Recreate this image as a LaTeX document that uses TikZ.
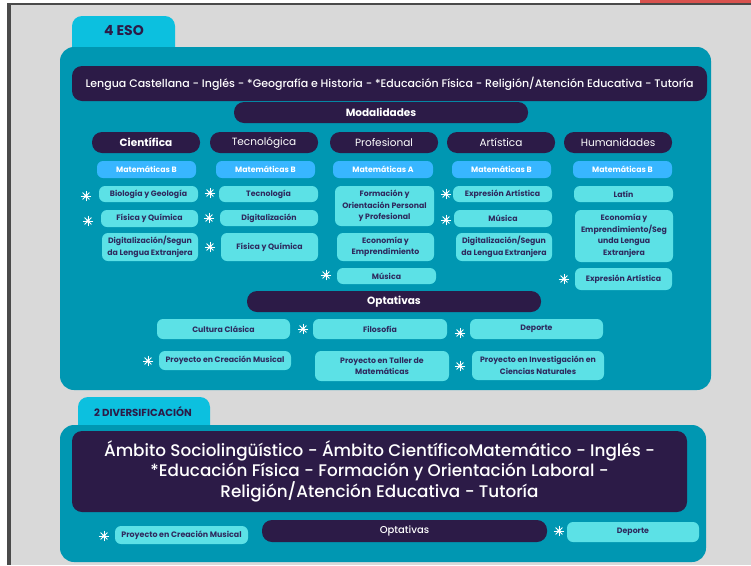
\documentclass[tikz,border=0pt]{standalone}
\usepackage{fontspec}
\setmainfont{Poppins}
\newfontfamily\popmed{Poppins Medium}
\definecolor{bggray}{HTML}{D9D9D9}
\definecolor{framegray}{HTML}{4A4A4A}
\definecolor{topred}{HTML}{D9534F}
\definecolor{teal}{HTML}{0097B2}
\definecolor{tabcyan}{HTML}{0CC0DF}
\definecolor{navy}{HTML}{2C1B47}
\definecolor{matblue}{HTML}{38B6FF}
\definecolor{itemcyan}{HTML}{5CE1E6}
\definecolor{itemtext}{HTML}{2E2A5E}
\tikzset{
  base/.style={rounded corners=6pt, align=center, inner sep=1pt},
  sz/.style 2 args={minimum width=#1pt, minimum height=#2pt},
  item/.style={base, fill=itemcyan, text=itemtext, font=\bfseries\fontsize{7.8}{11.5}\selectfont},
  mat/.style={base, fill=matblue, text=white, font=\bfseries\fontsize{7.8}{9}\selectfont},
  pill/.style={base, rounded corners=10pt, fill=navy, text=white},
  head/.style={pill, sz={108}{21}, font=\fontsize{10.5}{12}\selectfont},
  tabtext/.style={text=navy, font=\bfseries\fontsize{14}{15}\selectfont},
  sparkle/.pic={
    \foreach \a in {0,45,...,315}
      \draw[white, line width=1pt, line cap=round] (0,0) -- (\a:4.6);
    \fill[white] (0,0) circle (1.9);
  }
}
\begin{document}
\begin{tikzpicture}[x=1pt,y=-1pt]
\useasboundingbox (0,0) rectangle (751,565);
% page background and frame
\fill[white] (0,0) rectangle (751,565);
\fill[bggray] (9,4) rectangle (751,565);
\fill[framegray] (7,3) rectangle (11,565);
\fill[framegray] (7,3) rectangle (751,5);
\fill[topred] (640,0) rectangle (751,3);

% ---- 4 ESO ----
\fill[tabcyan, rounded corners=10pt] (72,60) rectangle (175,16);
\node[tabtext] (tabeso) at (124,31) {4 ESO};
\fill[teal, rounded corners=14pt] (60,47) rectangle (711,390);
\node[pill, sz={635}{35}, font=\popmed\fontsize{11}{12}\selectfont] (troncales) at (389.5,83.5)
  {Lengua Castellana - Inglés - *Geografía e Historia - *Educación Física - Religión/Atención Educativa - Tutoría};
\node[pill, sz={294}{21}, font=\bfseries\fontsize{10.5}{12}\selectfont] (modal) at (381,112.5) {Modalidades};

% column headers
\node[head, font=\bfseries\fontsize{10.5}{12}\selectfont] (cient) at (146,142.5) {Científica};
\node[head] (tecno) at (264,142.5) {Tecnológica};
\node[head] (prof) at (384,142.5) {Profesional};
\node[head] (art) at (501,142.5) {Artística};
\node[head] (hum) at (618,142.5) {Humanidades};

% matematicas
\node[mat, sz={99}{17}] (matcient) at (146.5,169.5) {Matemáticas B};
\node[mat, sz={99}{17}] (mattecno) at (265.5,169.5) {Matemáticas B};
\node[mat, sz={100}{17}] (matprof) at (383,169.5) {Matemáticas A};
\node[mat, sz={99}{17}] (matart) at (501.5,169.5) {Matemáticas B};
\node[mat, sz={99}{17}] (mathum) at (622.5,169.5) {Matemáticas B};

% cientifica
\node[item, sz={99}{16}] (biogeo) at (148.5,194) {Biología y Geología};
\node[item, sz={97}{17}] (fqcient) at (149.5,218.5) {Física y Química};
\node[item, sz={96}{28}] (digicient) at (150,247) {Digitalización/Segun\\da Lengua Extranjera};
% tecnologica
\node[item, sz={99}{16}] (tecnologia) at (268.5,194) {Tecnología};
\node[item, sz={98}{16}] (digitecno) at (269,218) {Digitalización};
\node[item, sz={97}{28}] (fqtecno) at (269.5,247) {Física y Química};
% profesional
\node[item, sz={99}{40}] (fopp) at (384.5,206) {Formación y\\Orientación Personal\\y Profesional};
\node[item, sz={97}{28}] (ecoprof) at (385.5,247) {Economía y\\Emprendimiento};
\node[item, sz={99}{16}] (musprof) at (386.5,276) {Música};
% artistica
\node[item, sz={99}{16}] (expart) at (502.5,194) {Expresión Artística};
\node[item, sz={98}{17}] (musart) at (503,218.5) {Música};
\node[item, sz={96}{28}] (digiart) at (504,247) {Digitalización/Segun\\da Lengua Extranjera};
% humanidades
\node[item, sz={99}{16}] (latin) at (623.5,194) {Latín};
\node[item, sz={98}{52}] (ecohum) at (624,236) {Economía y\\Emprendimiento/Seg\\unda Lengua\\Extranjera};
\node[item, sz={97}{22}] (exphum) at (623.5,279) {Expresión Artística};

\foreach \p in {(86,196),(88,221),(210,193),(209,218),(210,247),(446,194),(446,220),(326,275),(564,279)}
  \pic at \p {sparkle};

% optativas 4 ESO
\node[pill, sz={294}{21}, font=\bfseries\fontsize{10.5}{12}\selectfont] (optesa) at (394,301.5) {Optativas};
\node[item, sz={133}{20}] (cultura) at (223.5,329) {Cultura Clásica};
\node[item, sz={134}{20}] (filo) at (380,329) {Filosofía};
\node[item, sz={133}{20}] (deporte) at (536.5,329) {Deporte};
\node[item, sz={132}{19}] (creacion) at (225,360.5) {Proyecto en Creación Musical};
\node[item, sz={134}{30}] (taller) at (382,366) {Proyecto en Taller de\\Matemáticas};
\node[item, sz={132}{29}] (investiga) at (538,365.5) {Proyecto en Investigación en\\Ciencias Naturales};
\foreach \p in {(303,329),(460,333),(148,361),(460,366)}
  \pic at \p {sparkle};

% ---- 2 DIVERSIFICACION ----
\fill[tabcyan, rounded corners=10pt] (78,440) rectangle (210,397);
\node[tabtext, font=\bfseries\fontsize{10.2}{12}\selectfont] (tabdiv) at (143,411.5) {2 DIVERSIFICACIÓN};
\fill[teal, rounded corners=14pt] (60,425) rectangle (706,562);
\node[pill, sz={615}{81}, font=\popmed\fontsize{16.8}{20}\selectfont] (ambitos) at (379.5,471.5)
  {Ámbito Sociolingüístico - Ámbito CientíficoMatemático - Inglés -\\*Educación Física - Formación y Orientación Laboral -\\Religión/Atención Educativa - Tutoría};
\node[pill, sz={285}{22}, font=\popmed\fontsize{10}{11}\selectfont] (optdiv) at (404.5,531) {Optativas};
\node[item, sz={133}{18}, font=\bfseries\fontsize{7.9}{8}\selectfont] (creaciondiv) at (181.5,535) {Proyecto en Creación Musical};
\node[item, sz={132}{20}] (deportediv) at (633,532) {Deporte};
\foreach \p in {(104,536),(559,531)}
  \pic at \p {sparkle};
\end{tikzpicture}
\end{document}
